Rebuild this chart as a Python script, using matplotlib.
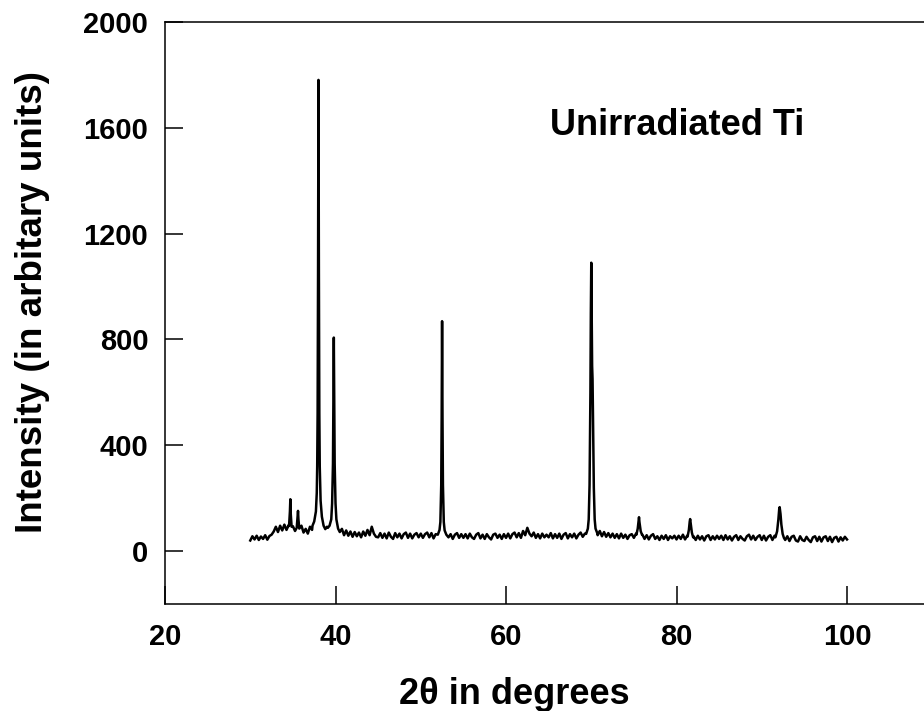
import numpy as np
import matplotlib
matplotlib.use("Agg")
import matplotlib.pyplot as plt

plt.rcParams["font.family"] = ["Liberation Sans", "DejaVu Sans"]
plt.rcParams["font.weight"] = "bold"

# background on a 0.25 degree grid (30 -> 100)
two_theta_base = np.arange(30.0, 100.01, 0.25)
intensity_base = [
    40, 56, 44, 58, 42, 55, 46, 60, 43, 57, 62, 74, 92, 72, 96, 78, 100, 80, 98, 84,
    94, 76, 92, 80, 96, 70, 84, 66, 92, 80, 104, 130, 150, 120, 96, 78, 92, 96, 110, 130,
    110, 88, 70, 84, 60, 78, 58, 74, 54, 72, 56, 70, 52, 74, 58, 80, 60, 92, 66, 54,
    52, 68, 50, 66, 48, 70, 54, 46, 68, 52, 66, 48, 64, 70, 50, 66, 48, 62, 68, 52,
    66, 50, 64, 70, 52, 68, 48, 64, 74, 62, 64, 50, 66, 52, 64, 46, 62, 68, 50, 64,
    50, 64, 48, 66, 52, 46, 62, 68, 48, 62, 46, 64, 52, 44, 62, 66, 50, 62, 46, 64,
    50, 66, 48, 64, 70, 52, 68, 50, 76, 60, 88, 66, 56, 70, 50, 64, 48, 66, 52, 62,
    52, 68, 48, 64, 50, 66, 46, 62, 68, 48, 64, 52, 66, 48, 62, 70, 54, 66, 72, 90,
    300, 120, 84, 60, 76, 56, 72, 54, 68, 52, 66, 50, 64, 48, 66, 50, 62, 46, 60, 64,
    50, 66, 100, 80, 62, 46, 60, 44, 58, 64, 46, 56, 42, 58, 46, 60, 42, 56, 48, 58,
    44, 58, 46, 62, 44, 58, 100, 70, 56, 42, 58, 44, 56, 40, 56, 60, 42, 56, 44, 58,
    46, 58, 42, 60, 44, 56, 40, 54, 60, 42, 56, 46, 40, 56, 62, 44, 58, 42, 54, 60,
    42, 58, 40, 54, 60, 42, 58, 64, 120, 90, 62, 42, 56, 38, 54, 58, 40, 36, 56, 42,
    38, 54, 42, 34, 52, 56, 38, 54, 36, 52, 56, 38, 54, 34, 50, 54, 36, 52, 40, 54,
    44,
]

# peaks, read on a finer step
peak_x = [
    [34.55, 34.65, 34.7, 34.75, 34.85],
    [35.45, 35.55, 35.6, 35.65, 35.75],
    [37.3, 37.5, 37.7, 37.8, 37.85, 37.9, 37.95, 38.0, 38.05, 38.1, 38.15, 38.25, 38.4, 38.6, 38.8],
    [39.1, 39.3, 39.5, 39.6, 39.7, 39.75, 39.8, 39.85, 39.9, 40.0, 40.1, 40.3, 40.5],
    [52.0, 52.2, 52.3, 52.4, 52.45, 52.5, 52.55, 52.6, 52.7, 52.8, 53.0],
    [69.4, 69.6, 69.7, 69.8, 69.9, 69.95, 70.0, 70.05, 70.1, 70.15, 70.2, 70.3, 70.4, 70.5, 70.7],
    [75.3, 75.45, 75.55, 75.6, 75.65, 75.8, 75.95],
    [81.3, 81.45, 81.55, 81.6, 81.65, 81.8, 81.95],
    [91.6, 91.8, 91.95, 92.05, 92.1, 92.2, 92.3, 92.45, 92.6],
]
peak_y = [
    [95, 150, 196, 140, 92],
    [88, 130, 152, 120, 85],
    [96, 112, 150, 220, 320, 520, 1050, 1781, 1050, 520, 320, 190, 130, 96, 83],
    [88, 96, 120, 180, 330, 550, 807, 550, 330, 180, 120, 85, 72],
    [62, 80, 110, 250, 500, 869, 500, 250, 110, 78, 62],
    [65, 85, 120, 250, 600, 900, 1090, 880, 700, 650, 520, 240, 120, 85, 68],
    [62, 85, 115, 128, 110, 75, 62],
    [55, 80, 112, 121, 108, 70, 52],
    [52, 75, 120, 160, 166, 140, 100, 65, 50],
]

# merge: drop background points that sit inside a peak window
base_x = np.array(two_theta_base)
base_y = np.array(intensity_base, dtype=float)
keep = np.ones(len(base_x), dtype=bool)
for px in peak_x:
    keep &= ~((base_x >= min(px)) & (base_x <= max(px)))
all_x = np.concatenate([base_x[keep]] + [np.array(p) for p in peak_x])
all_y = np.concatenate([base_y[keep]] + [np.array(p, dtype=float) for p in peak_y])
order = np.argsort(all_x)
all_x = all_x[order]
all_y = all_y[order]

fig = plt.figure(figsize=(9.24, 7.11), dpi=100)
# axes runs past the right edge, like the cropped original
ax = fig.add_axes([0.1786, 0.1505, 0.9226, 0.8186])

ax.plot(all_x, all_y, color="black", linewidth=1.8)

ax.set_xlim(20, 120)
ax.set_ylim(-200, 2000)
ax.set_xticks([20, 40, 60, 80, 100, 120])
ax.set_xticklabels(["20", "40", "60", "80", "100", ""])
ax.set_yticks([0, 400, 800, 1200, 1600, 2000])

ax.tick_params(direction="in", length=13, width=1.1, labelsize=21)
ax.tick_params(axis="x", pad=14)
ax.tick_params(axis="y", pad=12)
for lbl in ax.get_xticklabels() + ax.get_yticklabels():
    lbl.set_fontweight("bold")
for sp in ax.spines.values():
    sp.set_linewidth(1.1)

ax.set_xlabel("2θ in degrees", fontsize=26, fontweight="bold")
ax.xaxis.set_label_coords(0.41, -0.125)
ax.set_ylabel("Intensity (in arbitary units)", fontsize=26.5, fontweight="bold")
ax.yaxis.set_label_coords(-0.135, 0.519)

ax.text(65.2, 1610, "Unirradiated Ti", fontsize=26, fontweight="bold",
        ha="left", va="center")

plt.savefig("out.png", dpi=100)
plt.close()
